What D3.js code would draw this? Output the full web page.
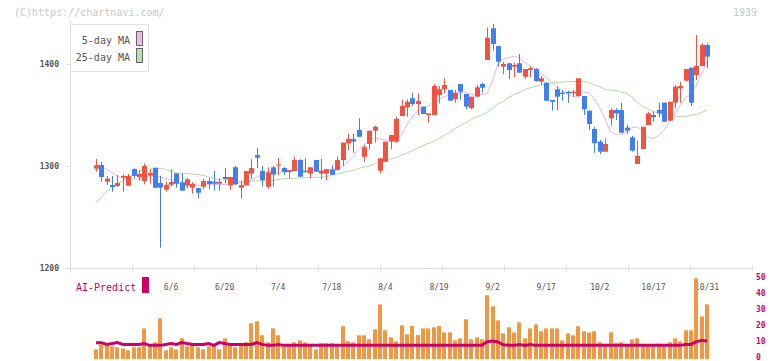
<!DOCTYPE html>
<html><head><meta charset="utf-8">
<script src="https://cdn.jsdelivr.net/npm/d3@7"></script>
<style>body{margin:0;background:#fff}svg{display:block}text{font-family:"DejaVu Sans Mono","Liberation Mono",monospace}</style>
</head><body>
<svg id="c" width="772" height="361"></svg>
<script>
const dates = ["5/19","5/20","5/21","5/22","5/23","5/26","5/27","5/28","5/29","5/30",
"6/2","6/3","6/4","6/5","6/6","6/9","6/10","6/11","6/12","6/13",
"6/16","6/17","6/18","6/19","6/20","6/23","6/24","6/25","6/26","6/27",
"6/30","7/1","7/2","7/3","7/4","7/7","7/8","7/9","7/10","7/11",
"7/14","7/15","7/16","7/17","7/18","7/22","7/23","7/24","7/25",
"7/28","7/29","7/30","7/31","8/1","8/4","8/5","8/6","8/7","8/8",
"8/12","8/13","8/14","8/15","8/18","8/19","8/20","8/21","8/22",
"8/25","8/26","8/27","8/28","8/29","9/1","9/2","9/3","9/4","9/5",
"9/8","9/9","9/10","9/11","9/12","9/16","9/17","9/18","9/19",
"9/22","9/24","9/25","9/26","9/29","9/30","10/1","10/2","10/3",
"10/6","10/7","10/8","10/9","10/10","10/14","10/15","10/16","10/17",
"10/20","10/21","10/22","10/23","10/24","10/27","10/28","10/29","10/30","10/31"];

const open  = [1297.4,1301,1284.6,1281.4,1280.4,1288.5,1280.7,1297,1289.2,1285.3,
1290.5,1298.3,1283.3,1276.8,1281.7,1292.8,1284,1280.7,1278.7,1278.4,
1279.7,1285.3,1284.6,1282.6,1289.2,1281,1298.7,1278.7,1281,1292.5,
1310.8,1295.1,1279.7,1298.7,1301,1298,1294.1,1295.1,1305.9,1295.1,
1292.5,1305.9,1292.5,1292.5,1296.7,1296,1305.9,1322.3,1326.5,1335.3,
1309.1,1321.6,1334.6,1295.4,1304.2,1323.9,1323.9,1349,1357.5,1366.4,
1360.8,1358.2,1350,1350,1369.6,1375.2,1374.5,1365.4,1380.4,1370.6,
1356.6,1368,1380.4,1403.9,1435,1417.6,1397.4,1400.7,1397.4,1400.7,
1387.5,1394.1,1395.1,1382.7,1381.7,1364.7,1375.2,1371.9,1372.8,1371.3,
1368.6,1368.6,1354.2,1336.3,1323.9,1314,1346.8,1354.9,1354.9,1337.6,
1328.1,1302,1316.7,1340.2,1350,1354.9,1362.1,1344.4,1362.1,1376.2,
1383.7,1396.4,1389.2,1398,1418.6];
const high  = [1306.9,1304.2,1290.2,1290.2,1291.2,1291.9,1292.2,1297.7,1296,1302.6,
1297,1298.3,1290.5,1284.6,1297,1292.8,1292.8,1288,1284,1278.7,
1287.3,1288,1295.1,1288,1298,1289.2,1300,1285.3,1295.1,1306.6,
1317.6,1300,1298.7,1300,1307.8,1298.7,1296,1309.1,1306.6,1307.5,
1299.3,1305.9,1306.9,1297,1300.7,1309.1,1322.9,1331.4,1331.4,1346.8,
1320.6,1334.6,1339.5,1307.5,1323.9,1330.4,1348.3,1364.7,1365.4,1371.9,
1371.2,1358.2,1351.6,1380.4,1378.4,1386,1374.5,1374.5,1380.4,1370.6,
1368,1379.4,1381.7,1436,1439.2,1417.6,1402.3,1401.3,1401.3,1409.8,
1395.1,1398,1395.8,1388.2,1381.7,1364.7,1378.4,1374.5,1373.8,1374.5,
1386,1368.6,1354.2,1338.5,1325.5,1327.1,1356.6,1356.6,1362.1,1340.2,
1329.4,1324.8,1338.5,1353.3,1353.3,1362.1,1362.1,1363,1379.4,1382.6,
1395.1,1396.4,1428.4,1420.3,1420.3];
const low   = [1294.4,1284.6,1281.4,1274.8,1279.4,1274.8,1280.7,1288,1285.3,1282,
1282.6,1278,1220,1274.8,1279.7,1278.7,1275.8,1278,1272.8,1268.3,
1277.5,1277.2,1276,1275.8,1283,1276.5,1281.4,1268,1281,1287.6,
1297.7,1279.7,1277.8,1279.7,1291.2,1291.2,1288,1295.1,1288.9,1293.8,
1288,1294.4,1287,1286.3,1291.5,1296,1300,1315.7,1313,1328.1,
1304.2,1316.4,1322.9,1292.8,1304.2,1316.4,1322.9,1349,1348.3,1358.8,
1350,1351,1342.5,1350,1361.5,1371.3,1364,1362.1,1364.7,1355.6,
1355.6,1367.3,1371.9,1403.9,1413,1397.4,1390.2,1385.3,1387,1391.5,
1385.3,1387,1382.7,1379.4,1364,1354.2,1354.9,1364,1362.1,1368,
1368,1350,1335.3,1313,1311.8,1314,1339.5,1345,1332,1331.4,
1314,1302,1316.7,1340.2,1343.4,1347.8,1343.4,1344.4,1356.6,1362.1,
1382.7,1358.8,1384.3,1398,1395.8];
const close = [1300.7,1289.2,1287.6,1279.4,1283.3,1290.2,1290.2,1290.2,1292.2,1300,
1293.1,1278.7,1278.7,1281.7,1284.3,1282.6,1275.8,1287,1282.4,1273.8,
1285.3,1282.4,1282.6,1284.6,1287.3,1289.2,1282,1281.4,1295.1,1298,
1308.1,1286,1293.8,1291.5,1301.5,1294.1,1296,1305.9,1289.5,1293.8,
1298.7,1294.4,1295.1,1297,1291.5,1305.9,1322.9,1326.5,1323.9,1328.7,
1318.3,1334.6,1338.5,1307.5,1323.9,1330.4,1346.1,1358.8,1363,1360.8,
1363.7,1351,1351.6,1378.4,1375.2,1379.4,1364,1371.9,1372.8,1358.2,
1368,1377.1,1376.8,1425.8,1419.6,1402.3,1400,1394.1,1399,1391.5,
1395.1,1395.8,1383.3,1386,1364,1363,1368,1370.6,1371.3,1372.8,
1386,1355.6,1341.2,1322.3,1314,1321.6,1354.9,1351.6,1332.6,1334.6,
1315,1309.8,1338.5,1351.6,1347.8,1351.6,1343.4,1363,1377.8,1378.4,
1395.1,1362.1,1398,1418.6,1407.2];

const ma5 = [1300.7,1299.7,1297,1293.8,1289.5,1288.9,1287,1286.8,1287.3,1289.2,
1290.2,1290.2,1289.2,1287.7,1286.3,1284.3,1282.4,1282,1281.4,1280.9,
1280.9,1281.4,1282,1282,1281.9,1282,1282.8,1283.6,1284.6,1285.8,
1289.2,1291.2,1292.6,1292.8,1293.8,1294.4,1295.1,1295.6,1296.1,1296.1,
1295.8,1295.6,1295.6,1295.4,1295.6,1296.1,1299.5,1303.9,1309.8,1316.2,
1320.6,1325,1327,1326.5,1325.5,1325.5,1326.5,1330.4,1340.2,1348,
1353.9,1356.9,1358.8,1363.7,1365.7,1368.1,1369.6,1371,1371.6,1371.9,
1370.6,1369.6,1370.1,1371,1384.3,1400,1404.9,1406.4,1407.8,1405.9,
1401.5,1398,1395.1,1390.7,1386.8,1381.9,1377.9,1374,1370.6,1368.1,
1368.6,1372.5,1371.6,1365.7,1356.9,1346.1,1333.3,1331.1,1331.1,1333.3,
1337.7,1338.2,1334.3,1328.4,1327,1329.9,1335.3,1344.1,1351,1359.8,
1366.7,1370.6,1379.4,1390.2,1402.3];
const ma25 = [1263.4,1269.6,1275,1278.9,1282.4,1285.8,1288.7,1292.2,1294.6,1296.6,
1297.1,1297.5,1297.7,1296.6,1295.1,1293.1,1292.8,1292.6,1292.2,1291.7,
1290.7,1289.5,1287.7,1286.8,1286,1285.3,1285.3,1285.3,1285.3,1285.3,
1285.3,1285.5,1285.8,1286,1286.8,1287.7,1287.9,1287.9,1288.2,1288.4,
1288.7,1288.9,1288.9,1289.7,1290.9,1292.2,1293.4,1294.6,1295.6,1297.5,
1299,1299.7,1302,1304.4,1305.4,1306.9,1308.3,1310.8,1312.7,1315,
1317.6,1320.1,1322.1,1324,1327,1330.4,1333.3,1336.8,1339.7,1342.2,
1345.8,1348,1350,1352.9,1356.4,1360.8,1363.2,1367.2,1370.1,1372.1,
1375,1376.5,1378.4,1379.4,1380.4,1381.4,1381.9,1382.4,1382.8,1382.8,
1383.1,1382.8,1381.9,1379.4,1377.9,1375,1374.3,1374,1372.5,1371.1,
1367.6,1362.3,1358.3,1355.9,1353.4,1352,1349,1348.5,1348.5,1348.5,
1348.7,1349.7,1350.5,1352.5,1354.9];

const volume = [5.4,8.5,7.9,7.3,6.7,6,4.8,6.7,6.7,18.5,
7.9,9.8,24.8,4.8,6.7,5.4,12.3,7.3,8.5,6.7,
5.4,7.3,8.5,5.4,12.3,8.5,6.7,8.5,9.8,21.7,
22.9,14.2,9.8,18.5,14.2,7.3,7.3,9.8,11,9.8,
8.5,5.4,9.2,9.2,9.2,7.3,19.8,10.4,9.8,14.2,
14.2,11.7,17.9,33.5,17.3,12.9,10.4,20.4,14.8,20,
14.4,18.5,18.5,19.2,20,16,16,11,12.3,24.2,
11.7,12.9,11.7,39.2,32.3,23.5,15.4,19.2,16,22.3,
12.3,18.5,21,16.7,18.5,18.5,18.5,11,15.4,14.2,
19.8,16.7,16,16.7,9.8,7.5,16,9.2,9.8,7.5,
11.7,12.3,7.5,7.5,7.5,9,7.5,9.8,12.3,10.4,
17.3,17.3,49.8,26,33.5];
const aiPredict = [9.6,9.6,8.5,9,9.6,8.5,8.5,8.5,8.5,9,
7.9,7.9,7.9,8.5,9,8.5,9.6,9,8.5,8.5,
8.5,9,7.9,9.6,9,8.5,8.5,8.5,8.5,8.5,
9.6,8.5,7.9,7.9,8.5,7.9,7.9,7.9,7.9,7.9,
7.9,7.9,7.9,7.9,7.9,7.9,7.9,7.9,7.9,7.9,
7.9,7.9,7.9,7.9,7.9,7.9,7.9,7.9,7.9,7.9,
7.9,7.9,7.9,7.9,7.9,7.9,7.9,7.9,7.9,7.9,
7.9,7.9,7.9,10.2,10.6,10,8.3,7.9,7.9,8.5,
7.9,8.5,7.9,7.9,7.9,7.9,7.9,7.9,7.9,7.9,
7.9,7.9,7.9,7.9,7.9,7.9,7.9,7.9,7.9,7.9,
7.9,7.9,7.9,7.9,7.9,7.9,7.9,7.9,7.9,7.9,
8.5,8.5,10.2,11,10.6];

const xTickLabels = ["6/6","6/20","7/4","7/18","8/4","8/19","9/2","9/17","10/2","10/17","10/31"];
const priceTicks = [1200,1300,1400];
const volTicks = [0,10,20,30,40,50];
const gridSlots = [0,1,2,3,4,5,6,7,8,9,10,11];

const svg = d3.select("#c");
const UP = "#f25340", DOWN = "#3f7ff0", AXIS = "#dedede";

const x = d3.scaleBand().domain(dates).range([93.3, 709.7]).paddingInner(0);
const cx = d => x(d) + x.bandwidth()/2;
const y = d3.scaleLinear().domain([1200,1400]).range([268,64]);
const yv = d3.scaleLinear().domain([0,50]).range([358,278]);
const xg = d3.scaleLinear().domain([0,11]).range([70,752]);

// watermark
svg.append("text").attr("x",14).attr("y",16).attr("font-size",10).attr("fill","#c8c8c8").text("(C)https://chartnavi.com/");
svg.append("text").attr("x",757).attr("y",16).attr("text-anchor","end").attr("font-size",10).attr("fill","#c8c8c8").text("1939");

// axes
svg.append("line").attr("x1",70.5).attr("x2",70.5).attr("y1",20).attr("y2",270).attr("stroke",AXIS);
svg.append("line").attr("x1",70).attr("x2",752).attr("y1",268.5).attr("y2",268.5).attr("stroke",AXIS);
svg.selectAll(".gt").data(gridSlots).join("line")
  .attr("x1",d=>Math.round(xg(d))+0.5).attr("x2",d=>Math.round(xg(d))+0.5)
  .attr("y1",265).attr("y2",271).attr("stroke",AXIS);
svg.selectAll(".pt").data(priceTicks).join("line")
  .attr("x1",66).attr("x2",70).attr("y1",d=>Math.round(y(d))+0.5).attr("y2",d=>Math.round(y(d))+0.5).attr("stroke",AXIS);
svg.selectAll(".pl").data(priceTicks).join("text")
  .attr("x",59).attr("y",d=>y(d)+3).attr("text-anchor","end").attr("font-size",8).attr("font-weight","bold").attr("fill","#555").text(d=>d);

// moving averages
const line = d3.line().x((d,i)=>cx(dates[i])).y(d=>y(d));
svg.append("path").attr("d",line(ma25)).attr("fill","none").attr("stroke","#b5dba5").attr("stroke-width",1);
svg.append("path").attr("d",line(ma5)).attr("fill","none").attr("stroke","#e9b5ea").attr("stroke-width",1);

// candles
const cd = dates.map((d,i)=>({d,o:open[i],h:high[i],l:low[i],c:close[i]}));
const g = svg.append("g");
g.selectAll(".w").data(cd).join("line")
  .attr("x1",d=>Math.round(cx(d.d))+0.5).attr("x2",d=>Math.round(cx(d.d))+0.5)
  .attr("y1",d=>y(d.h)).attr("y2",d=>y(d.l))
  .attr("stroke",d=>d.c>=d.o?UP:DOWN).attr("stroke-width",1);
g.selectAll(".b").data(cd).join("rect")
  .attr("x",d=>Math.round(cx(d.d))-2).attr("width",5)
  .attr("y",d=>y(Math.max(d.o,d.c)))
  .attr("height",d=>Math.max(1,Math.abs(y(d.o)-y(d.c))))
  .attr("fill",d=>d.c>=d.o?UP:DOWN);

// legend
svg.append("rect").attr("x",70.5).attr("y",24.5).attr("width",78).attr("height",47).attr("fill","#fff").attr("stroke","#e2e2e2");
svg.append("text").attr("x",130).attr("y",44).attr("text-anchor","end").attr("font-size",10).attr("fill","#555").text("5-day MA");
svg.append("text").attr("x",130).attr("y",61).attr("text-anchor","end").attr("font-size",10).attr("fill","#555").text("25-day MA");
svg.append("rect").attr("x",136.5).attr("y",31.5).attr("width",6).attr("height",14).attr("fill","#eebbee").attr("stroke","#666");
svg.append("rect").attr("x",136.5).attr("y",48.5).attr("width",6).attr("height",14).attr("fill","#bbddaa").attr("stroke","#666");

// x labels
svg.selectAll(".xl").data(xTickLabels).join("text")
  .attr("x",d=>cx(d)).attr("y",290).attr("text-anchor","middle").attr("font-size",8).attr("fill","#555").text(d=>d);

// AI-Predict label
svg.append("text").attr("x",76).attr("y",291).attr("font-size",10).attr("fill","#cc0066").text("AI-Predict");
svg.append("rect").attr("x",142).attr("y",277).attr("width",7).attr("height",16).attr("fill","#cc0066");

// volume bars
svg.selectAll(".v").data(volume).join("rect")
  .attr("x",(d,i)=>Math.round(cx(dates[i]))-2).attr("width",4)
  .attr("y",d=>yv(d)).attr("height",d=>yv(0)-yv(d)+1).attr("fill","#f29741");
const aline = d3.line().x((d,i)=>cx(dates[i])).y(d=>yv(d));
svg.append("path").attr("d",aline(aiPredict)).attr("fill","none").attr("stroke","#cc0066").attr("stroke-width",3);

// volume axis labels
svg.selectAll(".vl").data(volTicks).join("text")
  .attr("x",756).attr("y",d=>yv(d)+2).attr("font-size",8).attr("font-weight","bold").attr("fill","#cc0066").text(d=>d);
</script>
</body></html>
